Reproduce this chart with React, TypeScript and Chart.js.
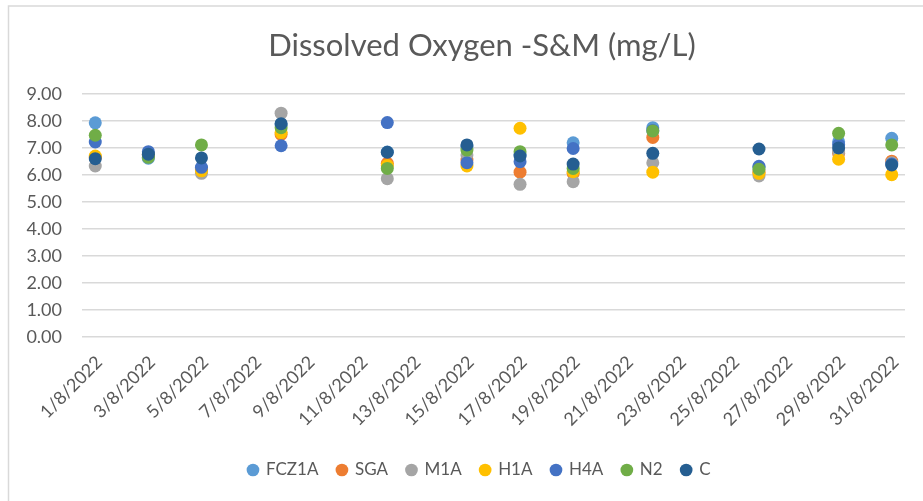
import React, { useEffect, useRef } from "react";
import { Chart, registerables } from "chart.js";

Chart.register(...registerables);

const dateLabels = [
  "1/8/2022", "2/8/2022", "3/8/2022", "4/8/2022", "5/8/2022", "6/8/2022", "7/8/2022", "8/8/2022",
  "9/8/2022", "10/8/2022", "11/8/2022", "12/8/2022", "13/8/2022", "14/8/2022", "15/8/2022", "16/8/2022",
  "17/8/2022", "18/8/2022", "19/8/2022", "20/8/2022", "21/8/2022", "22/8/2022", "23/8/2022", "24/8/2022",
  "25/8/2022", "26/8/2022", "27/8/2022", "28/8/2022", "29/8/2022", "30/8/2022", "31/8/2022",
];

const sampleDates = [
  "1/8/2022", "3/8/2022", "5/8/2022", "8/8/2022", "12/8/2022", "15/8/2022",
  "17/8/2022", "19/8/2022", "22/8/2022", "26/8/2022", "29/8/2022", "31/8/2022",
];

const fcz1a = [7.93, 6.62, 6.25, 7.85, 6.85, 7.05, 6.75, 7.19, 7.75, 6.28, 7.23, 7.36];
const sga = [6.65, 6.75, 6.2, 7.5, 6.43, 6.55, 6.1, 6.06, 7.39, 6.1, 6.8, 6.51];
const m1a = [6.33, 6.72, 6.06, 8.29, 5.86, 6.74, 5.65, 5.75, 6.45, 5.96, 6.85, 6.45];
const h1a = [6.7, 6.75, 6.15, 7.57, 6.35, 6.33, 7.73, 6.12, 6.1, 6.06, 6.58, 6.01];
const h4a = [7.22, 6.86, 6.28, 7.08, 7.94, 6.45, 6.49, 6.98, 7.65, 6.32, 7.12, 6.4];
const n2 = [7.47, 6.65, 7.11, 7.75, 6.24, 6.92, 6.86, 6.24, 7.63, 6.21, 7.54, 7.11];
const cSeries = [6.6, 6.77, 6.63, 7.9, 6.84, 7.11, 6.7, 6.4, 6.8, 6.96, 7.0, 6.37];

const seriesNames = ["FCZ1A", "SGA", "M1A", "H1A", "H4A", "N2", "C"];
const seriesValues = [fcz1a, sga, m1a, h1a, h4a, n2, cSeries];
const seriesColors = ["#5B9BD5", "#ED7D31", "#A5A5A5", "#FFC000", "#4472C4", "#70AD47", "#255E91"];

const FONT = "Lato, 'Open Sans', sans-serif";
const TEXT = "#595959";

const borderPlugin = {
  id: "outerBorder",
  beforeDraw(chart: any) {
    const ctx = chart.ctx;
    ctx.save();
    ctx.fillStyle = "#ffffff";
    ctx.fillRect(0, 0, chart.width, chart.height);
    ctx.strokeStyle = "#d9d9d9";
    ctx.lineWidth = 1.5;
    ctx.strokeRect(8.5, 6, 1200, 1200);
    ctx.restore();
  },
};

// The original chart is wider than the visible crop, so its title and legend sit right of centre.
const shiftPlugin = {
  id: "shiftBlocks",
  afterLayout(chart: any) {
    if (chart.titleBlock) {
      chart.titleBlock.left += 29.5;
      chart.titleBlock.right += 29.5;
    }
    if (chart.legend) {
      chart.legend.left += 27;
      chart.legend.right += 27;
    }
  },
};

export default function App() {
  const ref = useRef<HTMLCanvasElement | null>(null);
  useEffect(() => {
    if (!ref.current) return;
    const datasets = seriesNames.map((name, i) => ({
      label: name,
      data: sampleDates.map((d, j) => ({ x: d, y: seriesValues[i][j] })),
      backgroundColor: seriesColors[i],
      borderColor: seriesColors[i],
      pointRadius: 6.5,
      pointBorderWidth: 0,
      pointStyle: "circle",
      showLine: false,
      order: seriesNames.length - i,
    }));
    const chart = new Chart(ref.current, {
      type: "line",
      data: { labels: dateLabels, datasets },
      plugins: [borderPlugin, shiftPlugin],
      options: {
        animation: false,
        responsive: true,
        maintainAspectRatio: false,
        events: [],
        layout: { padding: { left: 0, right: 18, top: 0, bottom: 12.5 } },
        plugins: {
          title: {
            display: true,
            text: "Dissolved Oxygen -S&M (mg/L)",
            color: TEXT,
            font: { family: FONT, size: 31, weight: "normal" },
            padding: { top: 27.4, bottom: 29.4 },
          },
          legend: {
            position: "bottom",
            labels: {
              usePointStyle: true,
              pointStyle: "circle",
              boxWidth: 9,
              boxHeight: 9,
              padding: 19,
              color: TEXT,
              font: { family: FONT, size: 17 },
              sort: (a: any, b: any) => a.datasetIndex - b.datasetIndex,
            },
          },
          tooltip: { enabled: false },
        },
        scales: {
          x: {
            type: "category",
            offset: true,
            grid: { display: false, drawTicks: false },
            border: { display: false },
            afterFit: (scale: any) => { scale.height = 105.8; },
            ticks: {
              autoSkip: false,
              minRotation: 45,
              maxRotation: 45,
              padding: 15,
              labelOffset: 4,
              color: TEXT,
              font: { family: FONT, size: 18 },
              callback: (_v: any, index: number) => (index % 2 === 0 ? dateLabels[index] : ""),
            },
          },
          y: {
            min: 0,
            max: 9,
            grid: { color: "#d9d9d9", lineWidth: 1.5, drawTicks: false },
            border: { display: false },
            afterFit: (scale: any) => { scale.width = 82; },
            ticks: {
              stepSize: 1,
              padding: 20,
              color: TEXT,
              font: { family: FONT, size: 18 },
              callback: (v: any) => Number(v).toFixed(2),
            },
          },
        },
      },
    });
    return () => chart.destroy();
  }, []);
  return (
    <div style={{ position: "fixed", left: 0, top: 0, width: 923, height: 501, background: "#fff" }}>
      <canvas ref={ref} />
    </div>
  );
}
